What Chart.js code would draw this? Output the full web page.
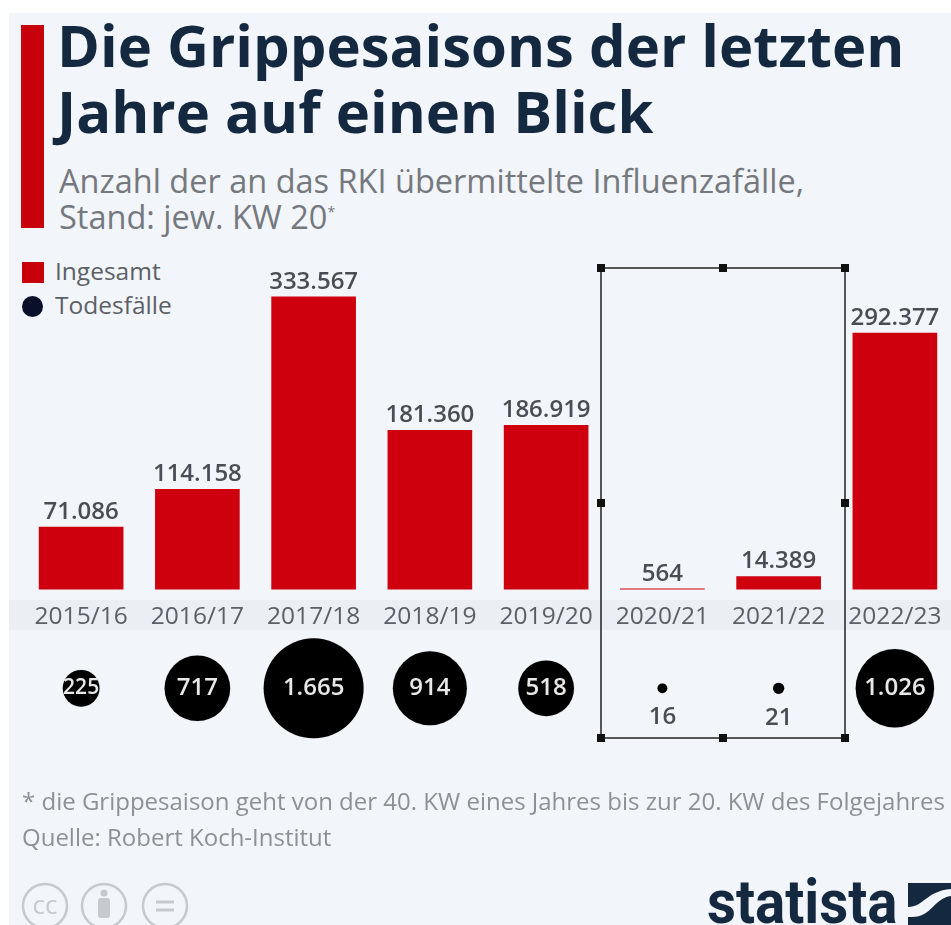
<!DOCTYPE html>
<html lang="de">
<head>
<meta charset="utf-8">
<title>Die Grippesaisons der letzten Jahre auf einen Blick</title>
<script src="https://cdn.jsdelivr.net/npm/chart.js@4/dist/chart.umd.js"></script>
<style>
    html, body { margin: 0; padding: 0; width: 951px; height: 925px; overflow: hidden; background: #fff; }
    body { position: relative; font-family: "Open Sans", sans-serif; }
    #panel { position: absolute; left: 9px; top: 13px; right: 0; bottom: 0; background: #f2f5fa; }
    #band { position: absolute; left: 9px; top: 600px; right: 0; height: 30px; background: #ebeef3; }
    #redbar { position: absolute; left: 21px; top: 25px; width: 23px; height: 203px; background: #c8000c; }
    .txt { position: absolute; white-space: nowrap; }
    .title { left: 57px; font-size: 58px; line-height: 64px; font-weight: 700; color: #14293f; }
    .sub { left: 59px; font-size: 32.5px; line-height: 40px; color: #75797e; }
    .foot { left: 22px; font-size: 24px; line-height: 30px; color: #8d9196; }
    .leg { left: 55px; font-size: 24.5px; line-height: 30px; color: #5c6066; }
    #wrap { position: absolute; left: 0; top: 0; width: 960px; height: 925px; }
    #logoText { left: 707px; top: 866px; font-family: Roboto, sans-serif; font-weight: 700; font-size: 62px; line-height: 72px; color: #14293f; transform-origin: left top; transform: scaleX(0.91); }
    svg { position: absolute; }
</style>
</head>
<body>
<div id="panel"></div>
<div id="band"></div>
<div id="redbar"></div>
<div class="txt title" style="top:13px">Die Grippesaisons der letzten</div>
<div class="txt title" style="top:79px">Jahre auf einen Blick</div>
<div class="txt sub" style="top:161px">Anzahl der an das RKI übermittelte Influenzafälle,</div>
<div class="txt sub" style="top:197px">Stand: jew. KW 20<sup style="font-size:14px;line-height:0">*</sup></div>
<div style="position:absolute;left:22px;top:262px;width:22px;height:21px;background:#c8000c"></div>
<div class="txt leg" style="top:256px">Ingesamt</div>
<div style="position:absolute;left:22px;top:296px;width:21px;height:21px;border-radius:50%;background:#0a0f2a"></div>
<div class="txt leg" style="top:290px">Todesfälle</div>
<div id="wrap"><canvas id="chart" width="960" height="925"></canvas></div>
<div class="txt foot" style="top:786px">* die Grippesaison geht von der 40. KW eines Jahres bis zur 20. KW des Folgejahres</div>
<div class="txt foot" style="top:822px">Quelle: Robert Koch-Institut</div>
<svg style="left:0;top:880px" width="200" height="45" fill="none" stroke="#c6c9ce" stroke-width="2.5">
    <circle cx="45" cy="26" r="22"/>
    <circle cx="104" cy="26" r="22"/>
    <circle cx="165" cy="26" r="22"/>
    <text x="45" y="34" font-family="Open Sans" font-size="26" text-anchor="middle" fill="#c6c9ce" stroke="none">cc</text>
    <circle cx="104" cy="13" r="3.5" fill="#c6c9ce" stroke="none"/>
    <rect x="98" y="18" width="12" height="20" rx="3" fill="#c6c9ce" stroke="none"/>
    <path d="M156 22h18M156 30h18" stroke-width="3"/>
</svg>
<div class="txt" id="logoText">statista</div>
<svg style="left:908px;top:883px" width="43" height="42">
    <rect width="43" height="42" fill="#14293f"/>
    <path d="M0 24C16 24 18 8 43 6V13C26 15 24 34 4 34H0Z" fill="#f2f5fa"/>
</svg>

<script>
document.addEventListener('DOMContentLoaded', () => {
    // Daten
    const seasons = ['2015/16', '2016/17', '2017/18', '2018/19', '2019/20', '2020/21', '2021/22', '2022/23'];
    const totalCases = [71086, 114158, 333567, 181360, 186919, 564, 14389, 292377];
    const deaths = [225, 717, 1665, 914, 518, 16, 21, 1026];

    // Höhe der Kreisreihe auf der versteckten Achse
    const deathsRow = 0.12;

    const fmt = n => n.toLocaleString('de-DE');

    // Werte über den Balken und in den Kreisen
    const valueLabels = {
        id: 'valueLabels',
        afterDatasetsDraw(chart) {
            const ctx = chart.ctx;
            ctx.save();
            ctx.textAlign = 'center';

            chart.getDatasetMeta(0).data.forEach((bar, i) => {
                ctx.font = '600 24px "Open Sans"';
                ctx.fillStyle = '#4a4e54';
                ctx.textBaseline = 'bottom';
                ctx.fillText(fmt(totalCases[i]), bar.x, bar.y - 3);
            });

            chart.getDatasetMeta(1).data.forEach((dot, i) => {
                const r = dot.options.radius;
                if (r < 10) {
                    ctx.font = '600 24px "Open Sans"';
                    ctx.fillStyle = '#4a4e54';
                    ctx.textBaseline = 'top';
                    ctx.fillText(fmt(deaths[i]), dot.x, dot.y + r + 12);
                } else {
                    ctx.font = (r < 20 ? '600 21px' : '600 24px') + ' "Open Sans"';
                    ctx.fillStyle = '#e8e8e8';
                    ctx.textBaseline = 'middle';
                    ctx.fillText(fmt(deaths[i]), dot.x, dot.y);
                }
            });
            ctx.restore();
        }
    };

    // Auswahlrahmen aus dem Original
    const selectionBox = {
        id: 'selectionBox',
        afterDraw(chart) {
            const ctx = chart.ctx;
            const x0 = 601, x1 = 845, y0 = 268, y1 = 738;
            ctx.save();
            ctx.strokeStyle = '#222';
            ctx.lineWidth = 1.5;
            ctx.strokeRect(x0, y0, x1 - x0, y1 - y0);
            ctx.fillStyle = '#111';
            [x0, (x0 + x1) / 2, x1].forEach(x => {
                [y0, (y0 + y1) / 2, y1].forEach(y => {
                    if (x === (x0 + x1) / 2 && y === (y0 + y1) / 2) return;
                    ctx.fillRect(x - 4, y - 4, 8, 8);
                });
            });
            ctx.restore();
        }
    };

    const ctx = document.getElementById('chart').getContext('2d');
    new Chart(ctx, {
        data: {
            labels: seasons,
            datasets: [{
                type: 'bar',
                label: 'Ingesamt',
                data: totalCases,
                backgroundColor: '#cf000e',
                barThickness: 84,
                yAxisID: 'y'
            }, {
                type: 'bubble',
                label: 'Todesfälle',
                // Kreisfläche proportional zu den Todesfällen
                data: seasons.map((s, i) => ({ x: s, y: deathsRow, r: 1.225 * Math.sqrt(deaths[i]) })),
                backgroundColor: '#000',
                clip: false,
                yAxisID: 'y2'
            }]
        },
        options: {
            responsive: false,
            animation: false,
            layout: { autoPadding: false, padding: { left: 23, right: 7, top: 258, bottom: 178 } },
            plugins: {
                title: { display: false },
                tooltip: { enabled: false },
                legend: { display: false }
            },
            scales: {
                x: {
                    type: 'category',
                    offset: true,
                    position: { y: 0 },
                    grid: { display: false },
                    border: { display: false },
                    ticks: {
                        color: '#5c6066',
                        padding: 5,
                        maxRotation: 0,
                        autoSkip: false,
                        font: { family: '"Open Sans"', size: 24.5 }
                    }
                },
                y: { display: false, min: -180000, max: 378000 },
                y2: { display: false, min: 0, max: 1 }
            }
        },
        plugins: [valueLabels, selectionBox]
    });
});
</script>
</body>
</html>
